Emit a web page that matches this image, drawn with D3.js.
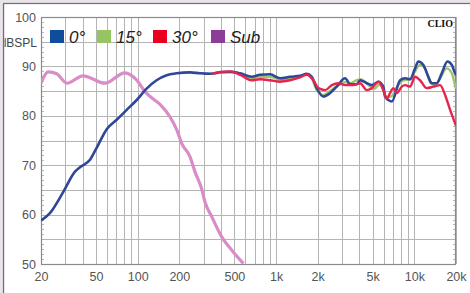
<!DOCTYPE html>
<html><head><meta charset="utf-8">
<script src="https://cdn.jsdelivr.net/npm/d3@7"></script>
<style>body{margin:0;background:#fff}svg{display:block}</style>
</head><body>
<script>
// ---- data ----
const yTicks = [50, 60, 70, 80, 90, 100];
const xTicks = [20, 50, 100, 200, 500, 1000, 2000, 5000, 10000, 20000];
const xTickLabels = ["20", "50", "100", "200", "500", "1k", "2k", "5k", "10k", "20k"];
const legendNames = ["0°", "15°", "30°", "Sub"];

const sub = [[20,86.6],[20.2,86.9],[22.6,88.9],[26,88.5],[30.8,86.6],[40.3,88.1],[58,86.6],[80.6,88.7],[98.6,87.2],[113,84.9],[123,83.9],[145,82.3],[171,79.8],[192,77.1],[208,74.4],[239,71.7],[260,68.6],[290,65.2],[307,62.5],[343,59.6],[405,55.5],[479,52.8],[581,50.1]];

const deg0 = [[20,58.8],[23.2,60.3],[29,64.6],[35.2,68.7],[38.3,69.6],[45.2,71.1],[50.5,73.5],[59.7,77.3],[70.5,79.2],[83.3,81.2],[98.4,83.2],[116,85.5],[137,87.2],[162,88.2],[191,88.6],[239,88.8],[282,88.6],[343,88.5],[394,88.8],[466,88.9],[550,88.6],[667,87.9],[767,88.3],[906,88.4],[1070,87.6],[1262,87.9],[1492,88.1],[1668,88.5],[1813,87.9],[1969,85.6],[2198,83.9],[2460,84.6],[2748,85.9],[3157,87.6],[3430,86.4],[3836,86.4],[4055,87.2],[4528,86.6],[4922,86.2],[5497,86.9],[5965,85.9],[6140,83.9],[6488,83.2],[6870,82.9],[7890,87.2],[8570,87.6],[9315,87.4],[10120,89.6],[10690,91.0],[11610,90.3],[12620,87.9],[13360,86.6],[14520,86.6],[15780,88.6],[17330,91.0],[18650,90.3],[19690,88.6],[20000,88.2]];

const deg15 = [[340,88.5],[394,88.8],[466,88.9],[550,88.5],[667,87.6],[767,87.9],[906,87.9],[1070,87.3],[1262,87.6],[1492,88.0],[1668,88.4],[1813,87.6],[1969,85.2],[2198,84.2],[2460,85.0],[2748,86.0],[3157,86.8],[3430,86.6],[3836,87.2],[4055,87.4],[4528,86.6],[5059,85.4],[5650,86.4],[6325,83.8],[6870,84.0],[7466,85.8],[8338,87.2],[9315,87.4],[10120,89.0],[10990,90.3],[11960,89.6],[13000,86.8],[14130,86.2],[15350,87.6],[17150,89.6],[18650,88.6],[19690,86.2],[20000,85.5]];

const deg30 = [[340,88.5],[394,88.9],[466,89.0],[550,88.3],[667,87.2],[767,87.4],[906,87.2],[1070,86.9],[1262,87.2],[1492,87.8],[1668,88.3],[1862,87.2],[2024,85.6],[2264,85.2],[2530,86.2],[2825,86.6],[3157,86.2],[3625,86.2],[4055,86.6],[4528,85.2],[4922,85.6],[5497,86.9],[5965,85.2],[6325,83.5],[6670,84.6],[7050,85.6],[7466,84.6],[8110,85.9],[8570,86.2],[9315,85.9],[10120,87.9],[10990,87.2],[12300,85.6],[13730,85.9],[15350,86.2],[16680,84.2],[18130,81.2],[19690,78.5],[20000,78.0]];

// ---- layout ----
const W = 470, H = 293;
const L = 41, T = 17, R = 456, B = 264;
const svg = d3.select("body").append("svg").attr("width", W).attr("height", H);
svg.append("rect").attr("width", W).attr("height", H).attr("fill", "#e6e6e6");
svg.append("rect").attr("x", 3.5).attr("y", 3.5).attr("width", W).attr("height", H).attr("fill", "#fff")
  .attr("stroke", "#9450a8").attr("stroke-width", 1.2);

const x = d3.scaleLog().domain([20, 20000]).range([L, R]);
const y = d3.scaleLinear().domain([50, 100]).range([B, T]);

// grid
const g = svg.append("g");
const vLines = [20,30,40,50,60,70,80,90,100,200,300,400,500,600,700,800,900,1000,2000,3000,4000,5000,6000,7000,8000,9000,10000,20000];
g.selectAll(".v").data(vLines).join("line")
  .attr("x1", d => Math.round(x(d)) + 0.5).attr("x2", d => Math.round(x(d)) + 0.5)
  .attr("y1", T).attr("y2", B).attr("stroke", "#b4b4b4").attr("stroke-width", 1);
g.selectAll(".h").data(d3.range(50, 101, 5)).join("line")
  .attr("x1", L).attr("x2", R)
  .attr("y1", d => Math.round(y(d)) + 0.5).attr("y2", d => Math.round(y(d)) + 0.5)
  .attr("stroke", "#b4b4b4").attr("stroke-width", 1);
const minor = d3.range(50, 101, 1);
g.selectAll(".ml").data(minor).join("line")
  .attr("x1", L).attr("x2", L + 3).attr("y1", d => Math.round(y(d)) + 0.5).attr("y2", d => Math.round(y(d)) + 0.5)
  .attr("stroke", "#aaa").attr("stroke-width", 0.8);
g.selectAll(".mr").data(minor).join("line")
  .attr("x1", R - 3).attr("x2", R).attr("y1", d => Math.round(y(d)) + 0.5).attr("y2", d => Math.round(y(d)) + 0.5)
  .attr("stroke", "#aaa").attr("stroke-width", 0.8);
svg.append("rect").attr("x", L + 0.5).attr("y", T + 0.5).attr("width", R - L - 1).attr("height", B - T)
  .attr("fill", "none").attr("stroke", "#8a8a8a").attr("stroke-width", 1.2);

// axes
const ya = svg.append("g").attr("transform", `translate(${L},0)`)
  .call(d3.axisLeft(y).tickValues(yTicks).tickSize(0).tickPadding(5));
ya.select(".domain").remove();
ya.selectAll("text").attr("font-family", "Liberation Sans, Arial, sans-serif").attr("font-size", 12.5).attr("fill", "#555");
const xa = svg.append("g").attr("transform", `translate(0,${B})`)
  .call(d3.axisBottom(x).tickValues(xTicks).tickFormat((d, i) => xTickLabels[i]).tickSize(0).tickPadding(8));
xa.select(".domain").remove();
xa.selectAll("text").attr("font-family", "Liberation Sans, Arial, sans-serif").attr("font-size", 12.5).attr("fill", "#555");

// curves
const line = d3.line().x(d => x(d[0])).y(d => y(d[1])).curve(d3.curveMonotoneX);
svg.append("clipPath").attr("id", "c").append("rect").attr("x", L).attr("y", T).attr("width", R - L).attr("height", B - T);
const cg = svg.append("g").attr("clip-path", "url(#c)");
cg.append("path").datum(sub).attr("d", line).attr("fill", "none").attr("stroke", "#d98cc9").attr("stroke-width", 3.2).attr("stroke-linejoin", "round");
cg.append("path").datum(deg15).attr("d", line).attr("fill", "none").attr("stroke", "#9cc56c").attr("stroke-width", 2.4);
cg.append("path").datum(deg0).attr("d", line).attr("fill", "none").attr("stroke", "#2e4797").attr("stroke-width", 2.6);
cg.append("path").datum(deg30).attr("d", line).attr("fill", "none").attr("stroke", "#e5254f").attr("stroke-width", 2.4);

// legend
const lColors = ["#0f4c9c", "#97c463", "#e8001c", "#8b3d98"];
const lX = [50, 97, 153, 211];
lColors.forEach((c, i) => {
  svg.append("rect").attr("x", lX[i]).attr("y", 30).attr("width", 14).attr("height", 13).attr("fill", c);
  svg.append("text").attr("x", lX[i] + 19).attr("y", 43).text(legendNames[i])
    .attr("font-family", "Liberation Sans, Arial, sans-serif").attr("font-style", "italic")
    .attr("font-size", 17).attr("fill", "#222");
});

// unit label (cropped at the left edge as in the original) and brand
svg.append("clipPath").attr("id", "uc").append("rect").attr("x", 4.5).attr("y", 0).attr("width", 40).attr("height", 60);
svg.append("text").attr("x", 37).attr("y", 47).attr("text-anchor", "end").text("dBSPL")
  .attr("clip-path", "url(#uc)")
  .attr("font-family", "Liberation Sans, Arial, sans-serif").attr("font-size", 12).attr("fill", "#444");
svg.append("rect").attr("x", 0).attr("y", 0).attr("width", 3).attr("height", H).attr("fill", "#e6e6e6");
svg.append("line").attr("x1", 3.5).attr("x2", 3.5).attr("y1", 3.5).attr("y2", H).attr("stroke", "#9450a8").attr("stroke-width", 1.2);
svg.append("text").attr("x", 453).attr("y", 27).attr("text-anchor", "end").text("CLIO")
  .attr("font-family", "Liberation Serif, serif").attr("font-weight", "bold").attr("font-size", 10).attr("fill", "#111");
</script>
</body></html>
